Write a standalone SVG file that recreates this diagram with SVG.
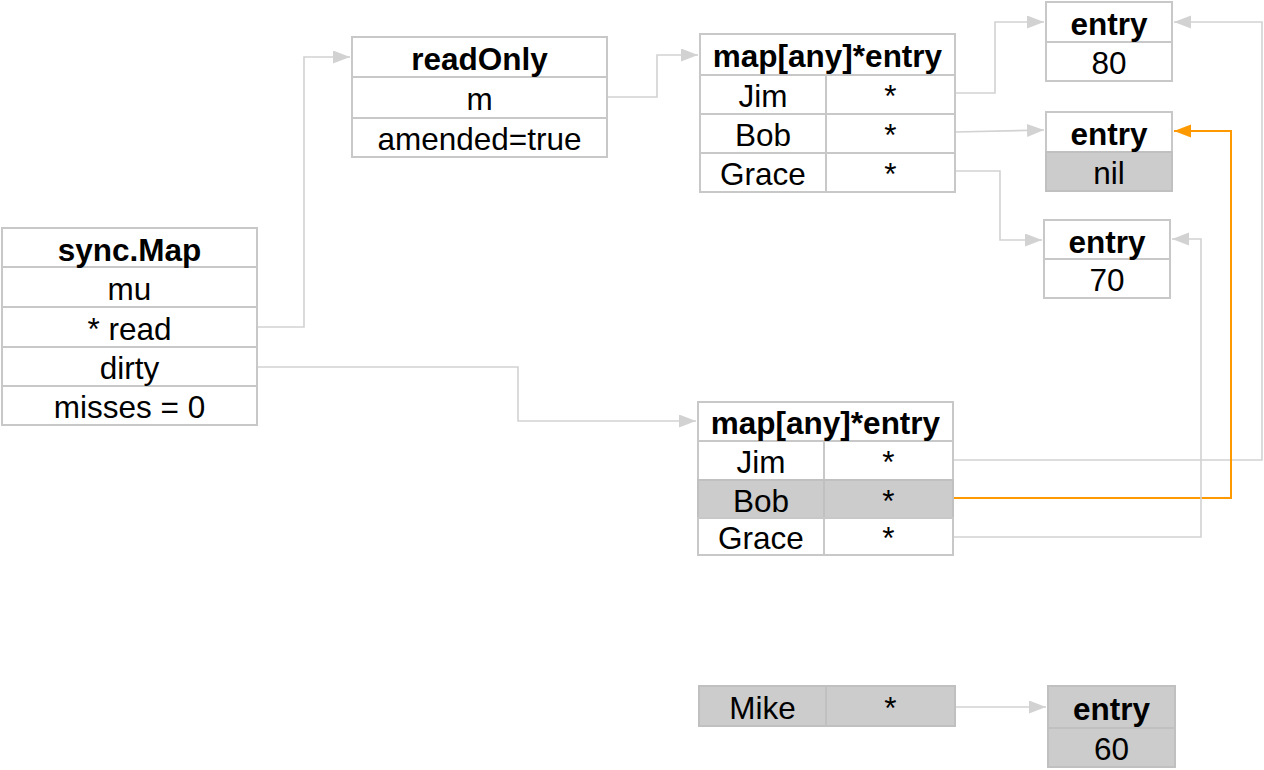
<svg xmlns="http://www.w3.org/2000/svg" width="1264" height="770" viewBox="0 0 1264 770">
<style>
.c{fill:#fff;stroke:#c8c8c8;stroke-width:2}
.g{fill:#cccccc;stroke:#c0c0c0;stroke-width:2}
text{font-family:"Liberation Sans",Arial,Helvetica,sans-serif;font-size:31.5px;fill:#000;text-anchor:middle}
.b{font-weight:bold}
.ln{fill:none;stroke:#d2d2d2;stroke-width:1.6}
.or{fill:none;stroke:#ff9900;stroke-width:2}
</style>
<defs>
<marker id="ag" markerUnits="userSpaceOnUse" markerWidth="18" markerHeight="14" refX="17" refY="6.5" orient="auto"><path d="M0,0 L17,6.5 L0,13 z" fill="#d2d2d2"/></marker>
<marker id="ao" markerUnits="userSpaceOnUse" markerWidth="18" markerHeight="14" refX="17" refY="6.5" orient="auto"><path d="M0,0 L17,6.5 L0,13 z" fill="#ff9900"/></marker>
</defs>
<rect width="1264" height="770" fill="#fff"/>

<g id="connectors">
<path class="ln" d="M257,327 H304 V57 H350" marker-end="url(#ag)"/>
<path class="ln" d="M257,367 H518 V421 H696" marker-end="url(#ag)"/>
<path class="ln" d="M607,97 H657 V55 H698" marker-end="url(#ag)"/>
<path class="ln" d="M955,93 H995 V22 H1044" marker-end="url(#ag)"/>
<path class="ln" d="M955,132 L1044,130" marker-end="url(#ag)"/>
<path class="ln" d="M955,171 H1000 V240 H1042" marker-end="url(#ag)"/>
<path class="ln" d="M953,460 H1262 V22 H1174" marker-end="url(#ag)"/>
<path class="or" d="M953,498 H1231 V131 H1174" marker-end="url(#ao)"/>
<path class="ln" d="M953,537 H1201 V239 H1172" marker-end="url(#ag)"/>
<path class="ln" d="M955,707 H1046" marker-end="url(#ag)"/>
</g>

<g id="syncmap">
<rect class="c" x="2" y="228" width="255" height="39"/>
<rect class="c" x="2" y="267" width="255" height="40"/>
<rect class="c" x="2" y="307" width="255" height="40"/>
<rect class="c" x="2" y="347" width="255" height="39"/>
<rect class="c" x="2" y="386" width="255" height="39"/>
<text class="b" x="129.5" y="261">sync.Map</text>
<text x="129.5" y="300">mu</text>
<text x="129.5" y="340">* read</text>
<text x="129.5" y="379">dirty</text>
<text x="129.5" y="418">misses = 0</text>
</g>

<g id="readonly">
<rect class="c" x="352" y="37" width="255" height="40"/>
<rect class="c" x="352" y="77" width="255" height="41"/>
<rect class="c" x="352" y="118" width="255" height="39"/>
<text class="b" x="479.5" y="70">readOnly</text>
<text x="479.5" y="110">m</text>
<text x="479.5" y="150">amended=true</text>
</g>

<g id="readmap">
<rect class="c" x="700" y="34" width="255" height="41"/>
<rect class="c" x="700" y="75" width="126" height="39"/>
<rect class="c" x="826" y="75" width="129" height="39"/>
<rect class="c" x="700" y="114" width="126" height="39"/>
<rect class="c" x="826" y="114" width="129" height="39"/>
<rect class="c" x="700" y="153" width="126" height="39"/>
<rect class="c" x="826" y="153" width="129" height="39"/>
<text class="b" x="827.5" y="67">map[any]*entry</text>
<text x="763" y="107">Jim</text>
<text x="890.5" y="107">*</text>
<text x="763" y="146">Bob</text>
<text x="890.5" y="146">*</text>
<text x="763" y="185">Grace</text>
<text x="890.5" y="185">*</text>
</g>

<g id="entry80">
<rect class="c" x="1046" y="2" width="126" height="40"/>
<rect class="c" x="1046" y="42" width="126" height="39"/>
<text class="b" x="1109" y="35">entry</text>
<text x="1109" y="74">80</text>
</g>

<g id="entrynil">
<rect class="c" x="1046" y="112" width="126" height="40"/>
<rect class="g" x="1046" y="152" width="126" height="39"/>
<text class="b" x="1109" y="145">entry</text>
<text x="1109" y="184">nil</text>
</g>

<g id="entry70">
<rect class="c" x="1044" y="220" width="126" height="39"/>
<rect class="c" x="1044" y="259" width="126" height="39"/>
<text class="b" x="1107" y="253">entry</text>
<text x="1107" y="291">70</text>
</g>

<g id="dirtymap">
<rect class="c" x="698" y="402" width="255" height="39"/>
<rect class="c" x="698" y="441" width="126" height="39"/>
<rect class="c" x="824" y="441" width="129" height="39"/>
<rect class="g" x="698" y="480" width="126" height="38"/>
<rect class="g" x="824" y="480" width="129" height="38"/>
<rect class="c" x="698" y="518" width="126" height="37"/>
<rect class="c" x="824" y="518" width="129" height="37"/>
<text class="b" x="825.5" y="434">map[any]*entry</text>
<text x="761" y="473">Jim</text>
<text x="888.5" y="473">*</text>
<text x="761" y="512">Bob</text>
<text x="888.5" y="512">*</text>
<text x="761" y="549">Grace</text>
<text x="888.5" y="549">*</text>
</g>

<g id="mike">
<rect class="g" x="699" y="686" width="127" height="40"/>
<rect class="g" x="826" y="686" width="129" height="40"/>
<text x="762.5" y="719">Mike</text>
<text x="890.5" y="719">*</text>
</g>

<g id="entry60">
<rect class="g" x="1048" y="686" width="127" height="42"/>
<rect class="g" x="1048" y="728" width="127" height="39"/>
<text class="b" x="1111.5" y="720">entry</text>
<text x="1111.5" y="760">60</text>
</g>
</svg>
